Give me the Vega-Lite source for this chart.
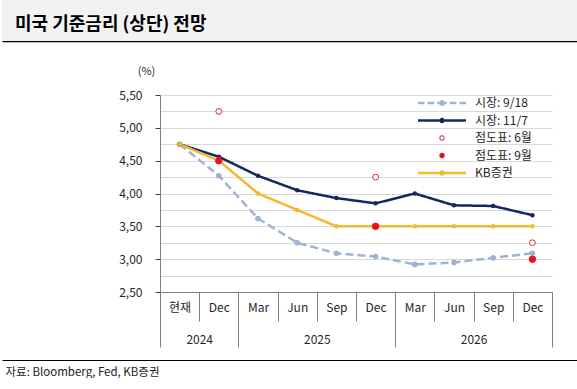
{
  "$schema": "https://vega.github.io/schema/vega-lite/v6.json",
  "width": 392,
  "height": 197,
  "padding": {"left": 2, "top": 0, "right": 0, "bottom": 0},
  "background": "white",
  "view": {"stroke": null},
  "config": {
    "font": "Noto Sans CJK KR",
    "axis": {"labelFont": "Noto Sans CJK KR", "titleFont": "Noto Sans CJK KR"},
    "legend": {"labelFont": "Noto Sans CJK KR"}
  },
  "datasets": {
    "market": [
      {"x": 0, "series": "시장: 9/18", "rate": 4.75},
      {"x": 1, "series": "시장: 9/18", "rate": 4.27},
      {"x": 2, "series": "시장: 9/18", "rate": 3.62},
      {"x": 3, "series": "시장: 9/18", "rate": 3.25},
      {"x": 4, "series": "시장: 9/18", "rate": 3.09},
      {"x": 5, "series": "시장: 9/18", "rate": 3.04},
      {"x": 6, "series": "시장: 9/18", "rate": 2.92},
      {"x": 7, "series": "시장: 9/18", "rate": 2.95},
      {"x": 8, "series": "시장: 9/18", "rate": 3.02},
      {"x": 9, "series": "시장: 9/18", "rate": 3.09},
      {"x": 0, "series": "시장: 11/7", "rate": 4.75},
      {"x": 1, "series": "시장: 11/7", "rate": 4.56},
      {"x": 2, "series": "시장: 11/7", "rate": 4.27},
      {"x": 3, "series": "시장: 11/7", "rate": 4.05},
      {"x": 4, "series": "시장: 11/7", "rate": 3.93},
      {"x": 5, "series": "시장: 11/7", "rate": 3.85},
      {"x": 6, "series": "시장: 11/7", "rate": 4.0},
      {"x": 7, "series": "시장: 11/7", "rate": 3.82},
      {"x": 8, "series": "시장: 11/7", "rate": 3.81},
      {"x": 9, "series": "시장: 11/7", "rate": 3.67},
      {"x": 0, "series": "KB증권", "rate": 4.75},
      {"x": 1, "series": "KB증권", "rate": 4.5},
      {"x": 2, "series": "KB증권", "rate": 4.0},
      {"x": 3, "series": "KB증권", "rate": 3.75},
      {"x": 4, "series": "KB증권", "rate": 3.5},
      {"x": 5, "series": "KB증권", "rate": 3.5},
      {"x": 6, "series": "KB증권", "rate": 3.5},
      {"x": 7, "series": "KB증권", "rate": 3.5},
      {"x": 8, "series": "KB증권", "rate": 3.5},
      {"x": 9, "series": "KB증권", "rate": 3.5}
    ],
    "dotplot": [
      {"x": 1, "series": "점도표: 6월", "rate": 5.25},
      {"x": 5, "series": "점도표: 6월", "rate": 4.25},
      {"x": 9, "series": "점도표: 6월", "rate": 3.25},
      {"x": 1, "series": "점도표: 9월", "rate": 4.5},
      {"x": 5, "series": "점도표: 9월", "rate": 3.5},
      {"x": 9, "series": "점도표: 9월", "rate": 3.0}
    ],
    "heading": [{"title": "미국 기준금리 (상단) 전망"}]
  },
  "resolve": {
    "scale": {"x": "independent", "y": "independent"},
    "axis": {"x": "independent", "y": "independent"}
  },
  "layer": [
    {
      "data": {"name": "heading"},
      "mark": {"type": "bar", "color": "#F2F2F2"},
      "encoding": {
        "x": {
          "field": "title", "type": "nominal",
          "scale": {"type": "band", "range": [-158, 417], "padding": 0},
          "axis": {"orient": "top", "offset": 54, "domainColor": "#000000", "domainWidth": 1.5, "labels": false, "ticks": false, "title": null, "grid": false}
        },
        "y": {
          "field": "title", "type": "nominal",
          "scale": {"type": "band", "range": [-95, -54], "padding": 0},
          "axis": null
        }
      }
    },
    {
      "data": {"name": "heading"},
      "mark": {"type": "text", "align": "left", "baseline": "middle", "dx": 13, "dy": 4, "fontSize": 18, "fontWeight": "bold", "color": "#000000"},
      "encoding": {
        "text": {"field": "title"},
        "x": {
          "field": "title", "type": "nominal", "bandPosition": 0,
          "scale": {"type": "band", "range": [-158, 417], "padding": 0},
          "axis": {
            "orient": "bottom", "offset": 68, "domainColor": "#000000", "domainWidth": 1,
            "labels": false, "ticks": false, "grid": false,
            "title": "자료: Bloomberg, Fed, KB증권", "titleX": -155, "titleAnchor": "start", "titleAlign": "left",
            "titleBaseline": "top", "titlePadding": 6,
            "titleFontSize": 11.5, "titleFontWeight": "normal", "titleColor": "#222222"
          }
        },
        "y": {
          "field": "title", "type": "nominal",
          "scale": {"type": "band", "range": [-95, -54], "padding": 0},
          "axis": null
        }
      }
    },
    {
      "layer": [
        {
          "data": {"name": "market"},
          "mark": {"type": "line", "strokeWidth": 2.5},
          "encoding": {
            "x": {
              "field": "x", "type": "quantitative",
              "scale": {"domain": [-0.5, 9.5], "nice": false, "zero": false},
              "axis": {
                "orient": "bottom",
                "values": [-0.5, 0, 0.5, 1, 1.5, 2, 2.5, 3, 3.5, 4, 4.5, 5, 5.5, 6, 6.5, 7, 7.5, 8, 8.5, 9, 9.5],
                "tickCount": 100,
                "labelExpr": "datum.value % 1 == 0 ? ['현재','Dec','Mar','Jun','Sep','Dec','Mar','Jun','Sep','Dec'][datum.value] : datum.value == 0.5 ? '2024' : datum.value == 3.5 ? '2025' : datum.value == 7.5 ? '2026' : ''",
                "grid": false,
                "domainColor": "#7F7F7F",
                "tickColor": "#7F7F7F",
                "tickSize": {"condition": [{"test": "datum.value % 1 == 0", "value": 0}, {"test": "indexof([-0.5, 1.5, 5.5, 9.5], datum.value) >= 0", "value": 55}], "value": 29},
                "labelPadding": {"condition": {"test": "datum.value % 1 != 0", "value": 13}, "value": 10},
                "labelFontSize": 12, "labelColor": "#262626", "labelBaseline": "top", "labelAngle": 0,
                "labelOverlap": false, "labelFlush": false, "labelBound": false,
                "title": null
              }
            },
            "y": {
              "field": "rate", "type": "quantitative",
              "scale": {"domain": [2.5, 5.5], "nice": false, "zero": false},
              "axis": {
                "orient": "left",
                "values": [2.5, 2.75, 3, 3.25, 3.5, 3.75, 4, 4.25, 4.5, 4.75, 5, 5.25, 5.5],
                "tickCount": 100,
                "labelExpr": "(datum.value * 2) % 1 == 0 ? replace(format(datum.value, '.2f'), '.', ',') : ''",
                "grid": true, "gridColor": "#D9D9D9", "gridWidth": 1,
                "domainColor": "#7F7F7F",
                "tickColor": "#404040", "tickSize": 5,
                "tickOpacity": {"condition": {"test": "(datum.value * 2) % 1 != 0", "value": 0}, "value": 1},
                "labelFontSize": 12, "labelColor": "#262626", "labelPadding": 13,
                "labelOverlap": false, "labelFlush": false,
                "title": "(%)", "titleAngle": 0, "titleX": -14, "titleY": -24,
                "titleAlign": "center", "titleBaseline": "middle",
                "titleFontSize": 11, "titleFontWeight": "normal", "titleColor": "#262626"
              }
            },
            "color": {
              "field": "series", "type": "nominal",
              "scale": {
                "domain": ["시장: 9/18", "시장: 11/7", "점도표: 6월", "점도표: 9월", "KB증권"],
                "range": ["#9FB3D5", "#14285F", "#C8323A", "#E8111B", "#F5B82E"]
              },
              "legend": {
                "orient": "none", "legendX": 276, "legendY": 2,
                "title": null, "padding": 0,
                "symbolSize": 144, "symbolStrokeWidth": 0,
                "labelOffset": 27, "rowPadding": 5.5,
                "labelFontSize": 12, "labelColor": "#262626",
                "encode": {
                  "symbols": {
                    "update": {
                      "shape": {"signal": "datum.value === '시장: 9/18' ? 'M-4,-0.2L-2.9,-0.2L-2.9,0.2L-4,0.2Z M-2.4,-0.2L-1.3,-0.2L-1.3,0.2L-2.4,0.2Z M-0.8,-0.2L0.8,-0.2L0.8,0.2L-0.8,0.2Z M1.3,-0.2L2.4,-0.2L2.4,0.2L1.3,0.2Z M2.9,-0.2L4,-0.2L4,0.2L2.9,0.2Z M-0.5,0A0.5,0.5 0 1,1 0.5,0A0.5,0.5 0 1,1 -0.5,0Z' : datum.value === '점도표: 6월' ? 'M-0.45,0A0.45,0.45 0 1,1 0.45,0A0.45,0.45 0 1,1 -0.45,0Z M-0.29,0A0.29,0.29 0 1,0 0.29,0A0.29,0.29 0 1,0 -0.29,0Z' : datum.value === '점도표: 9월' ? 'M-0.45,0A0.45,0.45 0 1,1 0.45,0A0.45,0.45 0 1,1 -0.45,0Z' : 'M-4,-0.2L4,-0.2L4,0.2L-4,0.2Z M-0.45,0A0.45,0.45 0 1,1 0.45,0A0.45,0.45 0 1,1 -0.45,0Z'"},
                      "size": {"value": 144},
                      "opacity": {"value": 1}
                    }
                  }
                }
              }
            },
            "strokeDash": {"condition": {"test": "datum.series === '시장: 9/18'", "value": [8, 4]}, "value": [1, 0]}
          }
        },
        {
          "data": {"name": "market"},
          "mark": {"type": "point", "filled": true, "opacity": 1},
          "encoding": {
            "x": {"field": "x", "type": "quantitative"},
            "y": {"field": "rate", "type": "quantitative"},
            "color": {"field": "series", "type": "nominal"},
            "size": {"condition": {"test": "datum.series === '시장: 9/18'", "value": 32}, "value": 20}
          }
        },
        {
          "data": {"name": "dotplot"},
          "mark": {"type": "point", "filled": false, "opacity": 1, "strokeWidth": 1},
          "encoding": {
            "x": {"field": "x", "type": "quantitative"},
            "y": {"field": "rate", "type": "quantitative"},
            "color": {"field": "series", "type": "nominal"},
            "fill": {"condition": {"test": "datum.series === '점도표: 9월'", "value": "#E8111B"}, "value": "#FFFFFF"},
            "size": {"condition": {"test": "datum.series === '점도표: 9월'", "value": 42}, "value": 34}
          }
        }
      ]
    }
  ]
}
